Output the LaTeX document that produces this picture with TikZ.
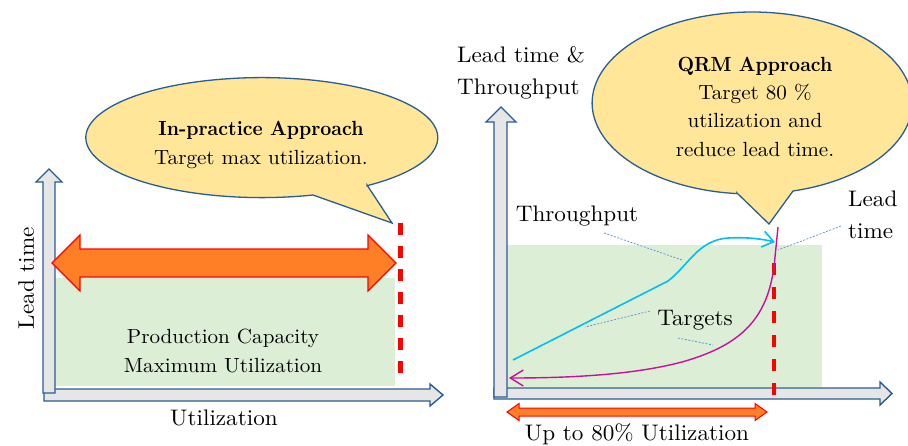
\documentclass[tikz,border=0pt]{standalone}
\usepackage{fontspec}
\setmainfont{lmroman10-regular.otf}[
  FakeStretch=1.03,
  BoldFont=lmroman10-bold.otf,
  BoldFeatures={FakeStretch=0.935}]
\usetikzlibrary{arrows.meta}
\definecolor{axisfill}{HTML}{E7E6E6}
\definecolor{axisline}{HTML}{2A5D96}
\definecolor{zone}{HTML}{DCEED6}
\definecolor{bubble}{HTML}{FFE699}
\definecolor{bandfill}{HTML}{FF7F27}
\definecolor{tpcurve}{HTML}{00BFF3}
\definecolor{ltcurve}{HTML}{C8109A}
\definecolor{leader}{HTML}{5B8FD0}
\tikzset{
  axisarrow/.style={fill=axisfill, draw=axisline, line width=1.4pt, line join=miter},
  zonebox/.style={fill=zone, draw=none},
  callout/.style={fill=bubble, draw=axisline, line width=1.3pt, line join=miter},
  band/.style={fill=bandfill, draw=red, line width=1.2pt, line join=miter},
  limitline/.style={draw=red, line width=4.3pt, dash pattern=on 12pt off 11pt},
  leaderline/.style={draw=leader, line width=0.7pt, dash pattern=on 2pt off 1.5pt},
  bigtext/.style={font=\fontsize{22.5}{32}\selectfont, inner sep=0pt},
  boxtext/.style={font=\fontsize{20.5}{28.3}\selectfont, inner sep=0pt, align=center},
}
\begin{document}
\begin{tikzpicture}[x=1pt, y=-1pt]
  \useasboundingbox[fill=white] (0,0) rectangle (908,445);

  % ---------- left panel: in-practice approach ----------
  \fill[zonebox] (54,278) rectangle (395,386);
  \draw[axisarrow] (44,389) -- (430,389) -- (430,384) -- (443,395) -- (430,406)
                   -- (430,401) -- (44,401) -- cycle;
  \draw[axisarrow] (43,393) -- (43,182) -- (36,182) -- (49,169) -- (62,182)
                   -- (55,182) -- (55,393) -- cycle;
  \draw[band] (52,263) -- (80,235) -- (80,249) -- (368,249) -- (368,235) -- (396,263)
              -- (368,291) -- (368,277) -- (80,277) -- (80,291) -- cycle;
  \coordinate (maxtop) at (400.5,223);
  \coordinate (maxbot) at (400.5,382);
  \draw[limitline] (maxtop) -- (maxbot);

  \draw[callout] (367,185) -- (392,223) -- (313,195)
     arc[start angle=-73.1, end angle=-413.3, x radius=176pt, y radius=60pt] -- cycle;
  \node[boxtext, anchor=base] (inpractice) at (261,164)
     {\textbf{In-practice Approach}\\Target max utilization.};

  \node[bigtext, rotate=90, anchor=base] (ltaxis) at (34,278) {Lead time};
  \node[bigtext, anchor=base] (utaxis) at (224,425) {Utilization};
  \node[boxtext, anchor=base] (capacity) at (223,372)
     {Production Capacity\\Maximum Utilization};

  % ---------- right panel: QRM approach ----------
  \fill[zonebox] (507,245) rectangle (822,387);
  \draw[axisarrow] (494,388) -- (880,388) -- (880,382) -- (892,393.5) -- (880,405)
                   -- (880,399) -- (494,399) -- cycle;
  \draw[axisarrow] (494,397) -- (494,122) -- (486,122) -- (501,107) -- (516,122)
                   -- (507,122) -- (507,397) -- cycle;

  \coordinate (qtop) at (774,263);
  \coordinate (qbot) at (774,395);
  \draw[limitline, line width=4pt, dash pattern=on 11.5pt off 12.5pt] (qtop) -- (qbot);

  % throughput curve
  \coordinate (tpstart) at (513,360);
  \coordinate (tpend) at (775,242);
  \draw[tpcurve, line width=1.6pt, -{Straight Barb[length=11pt, width=16pt, line width=1.6pt]}]
     (tpstart) -- (668,281) .. controls (688,266) and (698,240) .. (728,238)
     .. controls (748,237) and (762,239) .. (tpend);

  % lead time curve
  \coordinate (ltstart) at (778,227);
  \coordinate (ltend) at (509,378);
  \draw[ltcurve, line width=1.4pt, -{Straight Barb[length=13pt, width=16pt, line width=1.4pt]}]
     (ltstart) -- (775,257) .. controls (770,318) and (742,345) .. (682,362)
     .. controls (640,373) and (585,378) .. (ltend);

  % 80% band under the axis
  \draw[band, line width=1pt] (507,412) -- (519,403.5) -- (519,408) -- (755,408) -- (755,403.5)
              -- (767,412) -- (755,420.5) -- (755,416) -- (519,416) -- (519,420.5) -- cycle;

  \draw[callout] (737,193) -- (769,224) -- (793,191)
     arc[start angle=-75.2, end angle=264.6, x radius=160pt, y radius=91pt] -- cycle;
  \node[boxtext, anchor=base] (qrm) at (755,156)
     {\textbf{QRM Approach}\\Target 80 \%\\utilization and\\reduce lead time.};

  \node[bigtext, align=left, anchor=base west] (rightaxis) at (457,94)
     {Lead time \&\\Throughput};
  \node[bigtext, anchor=base] (tplabel) at (577,221) {Throughput};
  \node[bigtext, align=left, anchor=base west] (ltlabel) at (848,238) {Lead\\time};
  \node[bigtext, anchor=base] (targets) at (695,325) {Targets};
  \node[bigtext, anchor=base] (uptext) at (637,440) {Up to 80\% Utilization};

  % dashed leaders from the labels to the curves
  \coordinate (tpl) at (604,233);
  \coordinate (tpc) at (682,260);
  \coordinate (ltl) at (841,226);
  \coordinate (ltc) at (778,250);
  \coordinate (tg1a) at (650,311);
  \coordinate (tg1b) at (585,327);
  \coordinate (tg2a) at (678,338);
  \coordinate (tg2b) at (713,345);
  \draw[leaderline] (tpl) -- (tpc);
  \draw[leaderline] (ltl) -- (ltc);
  \draw[leaderline] (tg1a) -- (tg1b);
  \draw[leaderline] (tg2a) -- (tg2b);
\end{tikzpicture}
\end{document}
